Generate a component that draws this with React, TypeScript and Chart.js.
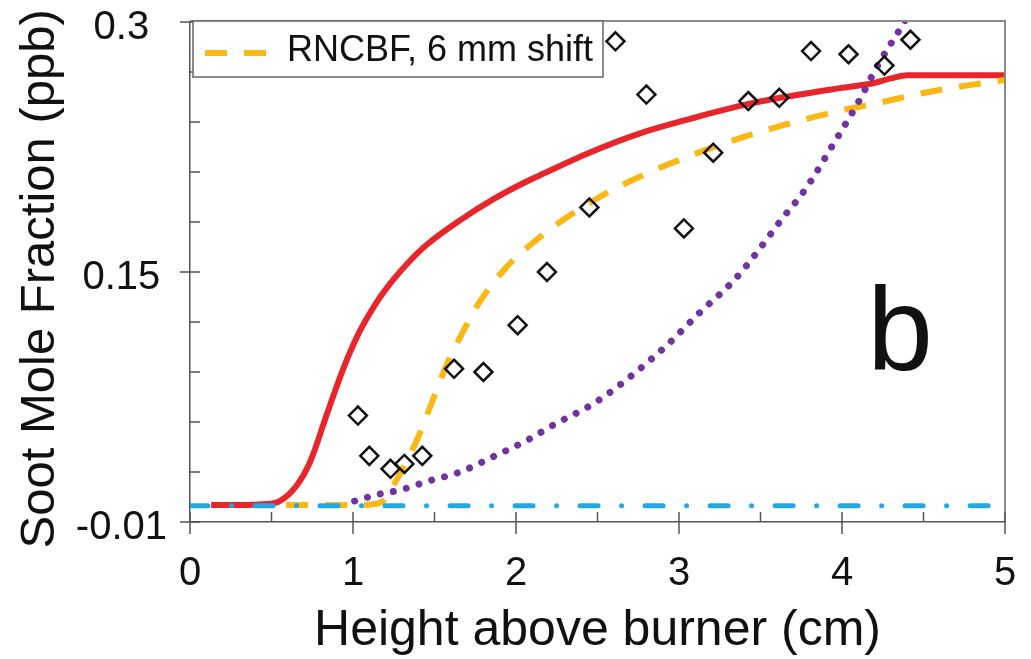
import React, { useEffect, useRef } from 'react';
import { Chart, registerables } from 'chart.js';

Chart.register(...registerables);

const FONT = '"Liberation Sans", Arial, Helvetica, sans-serif';

// Axis ticks
const xTickValues = [0, 1, 2, 3, 4, 5];
const xMinorTicks = [0.5, 1.5, 2.5, 3.5, 4.5];
const yTickValues = [-0.01, 0.145, 0.3];
const yTickLabels = ['-0.01', '0.15', '0.3'];
const yMinorTicks = [0.021, 0.052, 0.083, 0.114, 0.176, 0.207, 0.238, 0.269];

// Experimental data (diamonds)
const expX = [1.03, 1.10, 1.23, 1.315, 1.425, 1.62, 1.80, 2.01, 2.19, 2.45, 2.61, 2.80, 3.03, 3.21, 3.425, 3.615, 3.81, 4.04, 4.26, 4.42];
const expY = [0.056, 0.031, 0.023, 0.026, 0.031, 0.085, 0.083, 0.112, 0.145, 0.185, 0.288, 0.255, 0.172, 0.219, 0.251, 0.253, 0.282, 0.280, 0.273, 0.289];

// Red solid model
const redX = [0.13, 0.3, 0.45, 0.55, 0.65, 0.736, 0.84, 0.94, 1.04, 1.15, 1.245, 1.35, 1.454, 1.656, 1.859, 2.043, 2.147, 2.45, 2.761, 3.07, 3.374, 3.62, 3.988, 4.19, 4.30, 4.40, 4.6, 5.0];
const redY = [0.0005, 0.0005, 0.001, 0.003, 0.012, 0.027, 0.057, 0.085, 0.108, 0.127, 0.140, 0.152, 0.162, 0.177, 0.190, 0.200, 0.205, 0.219, 0.231, 0.240, 0.248, 0.253, 0.259, 0.262, 0.265, 0.267, 0.267, 0.267];

// Orange dashed model (RNCBF, 6 mm shift)
const orangeX = [0.59, 1.0, 1.12, 1.184, 1.288, 1.393, 1.472, 1.577, 1.675, 1.761, 1.859, 1.96, 2.067, 2.27, 2.558, 2.80, 3.067, 3.374, 3.64, 3.945, 4.23, 4.5, 4.79, 5.0];
const orangeY = [0.0005, 0.0005, 0.001, 0.003, 0.020, 0.041, 0.061, 0.088, 0.108, 0.124, 0.138, 0.150, 0.160, 0.176, 0.194, 0.206, 0.217, 0.228, 0.236, 0.244, 0.250, 0.256, 0.261, 0.264];

// Purple dotted model
const purpleX = [1.01, 1.15, 1.288, 1.45, 1.656, 1.85, 2.074, 2.227, 2.485, 2.70, 2.93, 3.129, 3.33, 3.454, 3.64, 3.74, 3.80, 3.945, 4.09, 4.23, 4.37, 4.42];
const purpleY = [0.003, 0.007, 0.0098, 0.015, 0.021, 0.030, 0.041, 0.050, 0.064, 0.080, 0.100, 0.120, 0.139, 0.154, 0.179, 0.1915, 0.200, 0.224, 0.2485, 0.275, 0.298, 0.307];

// Blue dash-dot baseline
const blueX = [0, 5];
const blueY = [0, 0];

const legendLabel = 'RNCBF, 6 mm shift';
const panelLabel = 'b';

const zip = (xs: number[], ys: number[]) => xs.map((x, i) => ({ x, y: ys[i] }));

const ORANGE = '#FBB714';

const decorPlugin = {
  id: 'decor',
  afterDraw(chart: any) {
    const { ctx, chartArea, scales } = chart;
    const xs = scales.x;
    const ys = scales.y;
    ctx.save();
    // top and right frame
    ctx.strokeStyle = '#8a8a8a';
    ctx.lineWidth = 2;
    ctx.beginPath();
    ctx.moveTo(chartArea.left, chartArea.top - 1);
    ctx.lineTo(chartArea.right, chartArea.top - 1);
    ctx.lineTo(chartArea.right, chartArea.bottom);
    ctx.stroke();
    // ticks
    ctx.strokeStyle = '#555';
    ctx.lineWidth = 1.5;
    ctx.beginPath();
    xTickValues.forEach((v) => {
      const p = xs.getPixelForValue(v);
      ctx.moveTo(p, chartArea.bottom - 10);
      ctx.lineTo(p, chartArea.bottom + 12);
    });
    xMinorTicks.forEach((v) => {
      const p = xs.getPixelForValue(v);
      ctx.moveTo(p, chartArea.bottom - 10);
      ctx.lineTo(p, chartArea.bottom);
    });
    yTickValues.forEach((v) => {
      const p = ys.getPixelForValue(v);
      ctx.moveTo(chartArea.left - 10, p);
      ctx.lineTo(chartArea.left + 10, p);
    });
    yMinorTicks.forEach((v) => {
      const p = ys.getPixelForValue(v);
      ctx.moveTo(chartArea.left, p);
      ctx.lineTo(chartArea.left + 10, p);
    });
    ctx.stroke();

    // legend box
    const lx = chartArea.left + 3;
    const ly = chartArea.top - 1;
    const lw = 410;
    const lh = 56;
    ctx.fillStyle = '#fff';
    ctx.fillRect(lx, ly, lw, lh);
    ctx.strokeStyle = '#666';
    ctx.lineWidth = 1.5;
    ctx.strokeRect(lx, ly, lw, lh);
    ctx.strokeStyle = ORANGE;
    ctx.lineWidth = 6;
    ctx.setLineDash([22, 17]);
    ctx.beginPath();
    ctx.moveTo(lx + 12, ly + 32);
    ctx.lineTo(lx + 75, ly + 32);
    ctx.stroke();
    ctx.setLineDash([]);
    ctx.fillStyle = '#111';
    ctx.font = `36px ${FONT}`;
    ctx.textBaseline = 'middle';
    ctx.textAlign = 'left';
    ctx.fillText(legendLabel, lx + 94, ly + 30);

    // panel label
    ctx.font = `118px ${FONT}`;
    ctx.textBaseline = 'alphabetic';
    ctx.fillText(panelLabel, xs.getPixelForValue(4.155), ys.getPixelForValue(0.084));
    ctx.restore();
  },
};

export default function App() {
  const ref = useRef<HTMLCanvasElement>(null);
  useEffect(() => {
    if (!ref.current) return;
    const chart = new Chart(ref.current, {
      type: 'scatter',
      data: {
        datasets: [
          {
            label: 'Experiment',
            data: zip(expX, expY),
            showLine: false,
            pointStyle: 'rectRot',
            pointRadius: 9,
            pointBorderWidth: 2.5,
            pointBorderColor: '#111',
            pointBackgroundColor: 'rgba(255,255,255,0)',
          },
          {
            label: 'Baseline',
            data: zip(blueX, blueY),
            showLine: true,
            borderColor: '#22A8E2',
            borderWidth: 5,
            borderDash: [18, 23.5, 0.01, 23.5],
            borderCapStyle: 'round',
            pointRadius: 0,
          },
          {
            label: 'Purple',
            data: zip(purpleX, purpleY),
            showLine: true,
            borderColor: '#7033A2',
            borderWidth: 7,
            borderDash: [0.01, 13.3],
            borderCapStyle: 'round',
            cubicInterpolationMode: 'monotone',
            pointRadius: 0,
          },
          {
            label: legendLabel,
            data: zip(orangeX, orangeY),
            showLine: true,
            borderColor: ORANGE,
            borderWidth: 6,
            borderDash: [22, 17],
            cubicInterpolationMode: 'monotone',
            pointRadius: 0,
          },
          {
            label: 'Red',
            data: zip(redX, redY),
            showLine: true,
            borderColor: '#E8252A',
            borderWidth: 6,
            cubicInterpolationMode: 'monotone',
            pointRadius: 0,
          },
        ],
      },
      options: {
        animation: false,
        responsive: true,
        maintainAspectRatio: false,
        layout: { padding: { top: 22, right: 26, left: 0, bottom: 0 } },
        plugins: { legend: { display: false }, tooltip: { enabled: false } },
        scales: {
          x: {
            type: 'linear',
            min: 0,
            max: 5,
            afterBuildTicks: (s: any) => {
              s.ticks = xTickValues.map((v) => ({ value: v }));
            },
            grid: { display: false, drawTicks: false },
            border: { display: true, color: '#555', width: 1.5 },
            ticks: {
              font: { family: FONT, size: 40 },
              color: '#111',
              padding: 28,
              maxRotation: 0,
              autoSkip: false,
            },
            title: {
              display: true,
              text: 'Height above burner (cm)',
              font: { family: FONT, size: 50, lineHeight: 1.1 },
              color: '#111',
              padding: 0,
            },
            afterFit: (s: any) => {
              s.height = 137;
              s.paddingLeft = 0;
              s.paddingRight = 0;
            },
          },
          y: {
            type: 'linear',
            min: -0.01,
            max: 0.3,
            afterBuildTicks: (s: any) => {
              s.ticks = yTickValues.map((v) => ({ value: v }));
            },
            grid: { display: false, drawTicks: false },
            border: { display: true, color: '#555', width: 1.5 },
            ticks: {
              font: { family: FONT, size: 40 },
              color: '#111',
              padding: 23,
              crossAlign: 'center',
              labelOffset: 6,
              autoSkip: false,
              callback: (_v: any, i: number) => yTickLabels[i],
            },
            title: {
              display: true,
              text: 'Soot Mole Fraction (ppb) ',
              font: { family: FONT, size: 49, lineHeight: 1.1 },
              color: '#111',
              padding: { top: 14, bottom: 0 },
            },
            afterFit: (s: any) => {
              s.width = 190;
              s.paddingTop = 0;
              s.paddingBottom = 0;
            },
          },
        },
      },
      plugins: [decorPlugin],
    } as any);
    return () => chart.destroy();
  }, []);

  return (
    <div style={{ position: 'fixed', left: 0, top: 0, width: 1031, height: 659, background: '#fff' }}>
      <canvas ref={ref} />
    </div>
  );
}
